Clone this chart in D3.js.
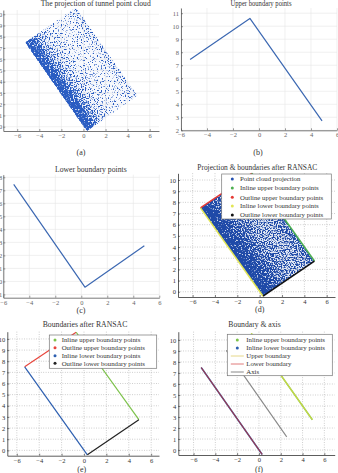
<!DOCTYPE html>
<html><head><meta charset="utf-8">
<script src="https://cdn.jsdelivr.net/npm/d3@7"></script>
<style>
body{margin:0;background:#fff}
svg{display:block}
text{font-family:"Liberation Serif","DejaVu Serif",serif}
</style></head><body>
<svg id="c" width="338" height="473"></svg>
<script>
// ---------------- data ----------------
const cornerX = [-5.3, -0.7, 4.9, 0.3];      // A (left), B (top), C (right), D (bottom)
const cornerY = [7.5, 10.6, 2.75, -0.4];
const upperX = [-5.3, -0.7, 4.85];
const upperY = [7.45, 10.6, 2.72];
const lowerX = [-5.2, 0.28, 4.85];
const lowerY = [7.46, -0.44, 2.74];
const axisX = [-3.0, 2.55];
const axisY = [9.05, 1.2];
// point-cloud density across the tunnel (from left wall A-D to right wall B-C)
const densityA = [0.97, 0.85, 0.58, 0.42, 0.33, 0.27, 0.24, 0.22, 0.24, 0.3, 0.4];
const densityD = [1.0, 0.95, 0.82, 0.7, 0.62, 0.56, 0.52, 0.5, 0.52, 0.58, 0.68];
const xTicks = [-6, -4, -2, 0, 2, 4, 6];
const yTicksA = [0,1,2,3,4,5,6,7,8,9,10];
const yTicksB = [2,3,4,5,6,7,8,9,10,11];
const yTicksC = [-1,0,1,2,3,4,5,6,7,8];
const titles = ["The projection of tunnel point cloud", "Upper boundary points", "Lower boundary points",
  "Projection & boundaries after RANSAC", "Boundaries after RANSAC", "Boundary & axis"];
const captions = ["(a)", "(b)", "(c)", "(d)", "(e)", "(f)"];
const legendD = ["Point cloud projection", "Inline upper boundary points", "Outline upper boundary points",
  "Inline lower boundary points", "Outline lower boundary points"];
const legendE = ["Inline upper boundary points", "Outline upper boundary points",
  "Inline lower boundary points", "Outline lower boundary points"];
const legendF = ["Inline upper boundary points", "Inline lower boundary points", "Upper boundary", "Lower boundary", "Axis"];

// ---------------- layout ----------------
const svg = d3.select("#c");
const defs = svg.append("defs");

function makeSpeckle(id, rgb, seed, freq) {
  const f = defs.append("filter").attr("id", id).attr("color-interpolation-filters", "sRGB")
    .attr("x", -0.05).attr("y", -0.05).attr("width", 1.1).attr("height", 1.1);
  f.append("feTurbulence").attr("type", "fractalNoise").attr("baseFrequency", freq).attr("numOctaves", 1).attr("seed", seed).attr("result", "n");
  f.append("feColorMatrix").attr("in", "n").attr("type", "matrix")
    .attr("values", "1 0 0 0 0  1 0 0 0 0  1 0 0 0 0  0 0 0 0 1").attr("result", "n1");
  f.append("feComposite").attr("in", "n1").attr("in2", "SourceGraphic").attr("operator", "arithmetic")
    .attr("k1", 0).attr("k2", 1).attr("k3", 0.42).attr("k4", -0.2).attr("result", "s");
  f.append("feColorMatrix").attr("in", "s").attr("type", "matrix")
    .attr("values", `0 0 0 0 ${rgb[0]}  0 0 0 0 ${rgb[1]}  0 0 0 0 ${rgb[2]}  9 0 0 0 -4.3`).attr("result", "c");
  f.append("feComposite").attr("in", "c").attr("in2", "SourceAlpha").attr("operator", "in");
}
makeSpeckle("spkA", [0.16, 0.36, 0.76], 3, 0.75);
makeSpeckle("spkD", [0.12, 0.29, 0.66], 7, 0.75);

const P = [
  {L:3.3, R:159, T:10, B:131, xd:[-7.26,6.84], yd:[-0.38,10.38], yt:yTicksA, grid:"solid", tx:95.7, ty:6.3, tw:110, cx:81, cy:154.5},
  {L:181, R:337, T:8, B:130.3, xd:[-6,6], yd:[2,11.4], yt:yTicksB, grid:"solid", tx:261, ty:6.3, tw:61, cx:258, cy:154.5},
  {L:3.3, R:159.3, T:174.7, B:297.7, xd:[-6,6], yd:[-1.25,8.2], yt:yTicksC, grid:"solid", tx:90.8, ty:171.5, tw:71.7, cx:81, cy:313},
  {L:178, R:335, T:173.3, B:297, xd:[-7.31,6.74], yd:[-0.47,10.6], yt:yTicksA, grid:"dot", tx:257.3, ty:170, tw:120, cx:259.7, cy:312},
  {L:7.3, R:159, T:331.7, B:455.7, xd:[-6.85,6.7], yd:[-0.48,10.65], yt:yTicksA, grid:"dot", tx:85, ty:327, tw:84.7, cx:81.7, cy:471.5},
  {L:178.3, R:334.7, T:331.7, B:455, xd:[-7.4,6.95], yd:[-0.45,10.75], yt:yTicksA, grid:"dot", tx:254.5, ty:327, tw:52.4, cx:259, cy:471.5}
];

P.forEach((p, i) => {
  p.x = d3.scaleLinear().domain(p.xd).range([p.L, p.R]);
  p.y = d3.scaleLinear().domain(p.yd).range([p.B, p.T]);
  const g = svg.append("g");
  const dotted = p.grid === "dot";
  const gg = g.append("g").attr("stroke", dotted ? "#9a9a9a" : "#e6e6e6").attr("stroke-width", 0.6)
    .attr("stroke-dasharray", dotted ? "0.8,1.6" : null);
  const xv = xTicks.filter(t => t >= p.xd[0] && t <= p.xd[1]);
  const yv = p.yt.filter(t => t >= p.yd[0] && t <= p.yd[1]);
  xv.forEach(t => gg.append("line").attr("x1", p.x(t)).attr("x2", p.x(t)).attr("y1", p.T).attr("y2", p.B));
  yv.forEach(t => gg.append("line").attr("y1", p.y(t)).attr("y2", p.y(t)).attr("x1", p.L).attr("x2", p.R));
  p.layer = g.append("g");
  const col = dotted ? "#333" : "#555";
  const ax = g.append("g").attr("transform", `translate(0,${p.B})`)
    .call(d3.axisBottom(p.x).tickValues(xv).tickSizeInner(-2).tickSizeOuter(0).tickPadding(2.5));
  const ay = g.append("g").attr("transform", `translate(${p.L},0)`)
    .call(d3.axisLeft(p.y).tickValues(yv).tickSizeInner(-2).tickSizeOuter(0).tickPadding(p.L < 5 ? 1 : 2));
  [ax, ay].forEach(a => {
    a.select(".domain").attr("stroke", col).attr("stroke-width", 0.8);
    a.selectAll(".tick line").attr("stroke", col).attr("stroke-width", 0.6);
    a.selectAll("text").attr("font-family", '"Liberation Serif",serif').attr("font-size", 6.5).attr("fill", dotted ? "#333" : "#666");
  });
  svg.append("text").attr("x", p.tx).attr("y", p.ty).attr("text-anchor", "middle").attr("font-size", 7.6)
    .attr("fill", "#333").attr("textLength", p.tw).attr("lengthAdjust", "spacingAndGlyphs").text(titles[i]);
  svg.append("text").attr("x", p.cx).attr("y", p.cy).attr("text-anchor", "middle").attr("font-size", 8)
    .attr("fill", "#333").text(captions[i]);
});

function cloud(p, density, tint, filt, id, baseOp) {
  const pts = cornerX.map((cx, i) => [p.x(cx), p.y(cornerY[i])]);
  const [A, B, C] = pts;
  const bx = C[0] - B[0], by = C[1] - B[1];
  const t = ((A[0] - B[0]) * bx + (A[1] - B[1]) * by) / (bx * bx + by * by);
  const Q = [B[0] + t * bx, B[1] + t * by];
  const mk = (gid, colorOf, opOf) => {
    const gr = defs.append("linearGradient").attr("id", gid).attr("gradientUnits", "userSpaceOnUse")
      .attr("x1", A[0]).attr("y1", A[1]).attr("x2", Q[0]).attr("y2", Q[1]);
    density.forEach((d, k) => gr.append("stop").attr("offset", k / (density.length - 1))
      .attr("stop-color", colorOf(d)).attr("stop-opacity", opOf(d)));
  };
  mk("gb" + id, () => tint, d => d);
  mk("gg" + id, d => { const v = Math.round(d * 255); return `rgb(${v},${v},${v})`; }, () => 1);
  const poly = d3.line()(pts) + "Z";
  p.layer.append("path").attr("d", poly).attr("fill", `url(#gb${id})`).attr("opacity", baseOp);
  p.layer.append("path").attr("d", poly).attr("fill", `url(#gg${id})`).attr("filter", `url(#${filt})`);
}

function seg(p, xs, ys, color, w, op) {
  const line = d3.line().x((d, k) => p.x(xs[k])).y((d, k) => p.y(ys[k]));
  p.layer.append("path").attr("d", line(xs)).attr("fill", "none").attr("stroke", color)
    .attr("stroke-width", w).attr("stroke-opacity", op == null ? 1 : op).attr("stroke-linejoin", "round");
}
const cx = i => cornerX[i], cy = i => cornerY[i];

// (a)
cloud(P[0], densityA, "#2a5cc2", "spkA", "a", 0.15);
// (b)
seg(P[1], upperX, upperY, "#3c68b2", 1.2);
// (c)
seg(P[2], lowerX, lowerY, "#3c68b2", 1.2);
// (d)
cloud(P[3], densityD, "#2350b0", "spkD", "d", 0.25);
seg(P[3], [cx(0), cx(1)], [cy(0), cy(1)], "#e53a35", 1.5);
seg(P[3], [cx(1), cx(2)], [cy(1), cy(2)], "#4caf50", 1.5);
seg(P[3], [cx(0), cx(3)], [cy(0), cy(3)], "#e2e655", 1.5);
seg(P[3], [cx(3), cx(2)], [cy(3), cy(2)], "#111", 1.5);
// (e)
seg(P[4], [cx(0), cx(1)], [cy(0), cy(1)], "#e8453c", 1.2);
seg(P[4], [cx(1), cx(2)], [cy(1), cy(2)], "#7cc24a", 1.2);
seg(P[4], [cx(0), cx(3)], [cy(0), cy(3)], "#2d5fb0", 1.2);
seg(P[4], [cx(3), cx(2)], [cy(3), cy(2)], "#222", 1.2);
// (f)
seg(P[5], [cx(0), cx(3)], [cy(0), cy(3)], "#2d5fb0", 1.5);
seg(P[5], [cx(0), cx(3)], [cy(0), cy(3)], "#c42a2a", 1.1, 0.8);
seg(P[5], [cx(1), cx(2)], [cy(1), cy(2)], "#7cc24a", 1.5);
seg(P[5], [cx(1), cx(2)], [cy(1), cy(2)], "#e4e040", 1.1, 0.8);
seg(P[5], axisX, axisY, "#888", 1.1);

function legend(box, items, fs) {
  const g = svg.append("g");
  g.append("rect").attr("x", box.x0).attr("y", box.y0).attr("width", box.x1 - box.x0).attr("height", box.y1 - box.y0)
    .attr("fill", "#fff").attr("stroke", "#777").attr("stroke-width", 0.7);
  items.forEach((it, k) => {
    const yy = box.ys[k];
    if (it.kind === "dot") g.append("circle").attr("cx", box.mx).attr("cy", yy).attr("r", 1.5).attr("fill", it.color);
    else g.append("line").attr("x1", box.mx - 6.5).attr("x2", box.mx + 6.5).attr("y1", yy).attr("y2", yy)
      .attr("stroke", it.color).attr("stroke-width", 1);
    g.append("text").attr("x", box.tx).attr("y", yy).attr("dy", "0.33em").attr("font-size", fs).attr("fill", "#333").text(it.label);
  });
}
legend({x0:221.7, x1:331.3, y0:174, y1:219, ys:[179,188,197.3,206,215], mx:232.3, tx:240},
  legendD.map((l, k) => ({label:l, kind:"dot", color:["#2350b0", "#4caf50", "#e53a35", "#e2e655", "#111"][k]})), 6.8);
legend({x0:49.3, x1:156.7, y0:335, y1:368.3, ys:[340,347.7,355.7,363.3], mx:55, tx:61.7},
  legendE.map((l, k) => ({label:l, kind:"dot", color:["#7cc24a", "#e8453c", "#2d5fb0", "#222"][k]})), 6.8);
legend({x0:227.3, x1:332.3, y0:334.3, y1:375.7, ys:[340,348,356,364,372], mx:237.3, tx:246.3},
  legendF.map((l, k) => ({label:l, kind:k < 2 ? "dot" : "line", color:["#7cc24a", "#2d5fb0", "#e6d88a", "#e07a7a", "#888"][k]})), 6.8);
</script>
</body></html>
